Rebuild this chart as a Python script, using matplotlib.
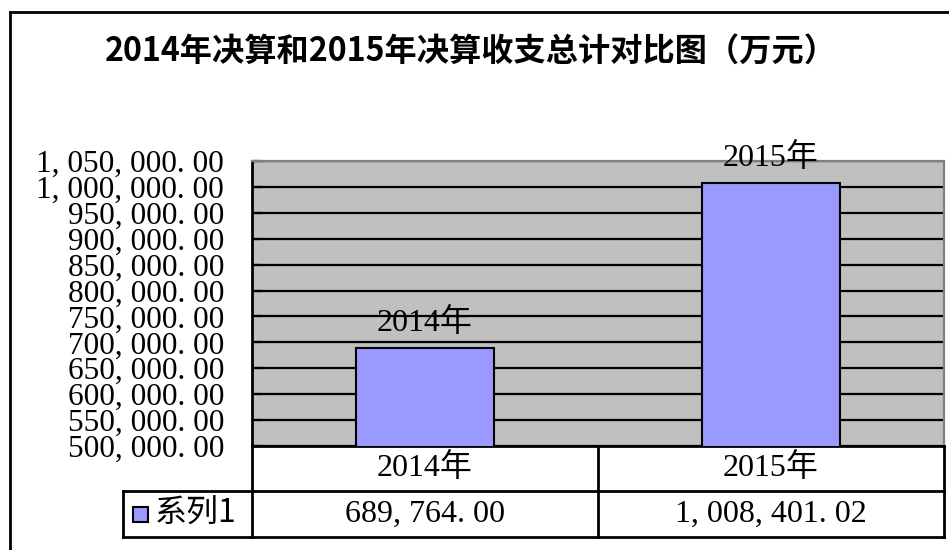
import matplotlib
matplotlib.use('Agg')
import matplotlib.pyplot as plt
from matplotlib.lines import Line2D
from matplotlib.patches import Rectangle
import matplotlib.transforms as mtransforms
import numpy as np

# ---- data ----
categories = ['2014年', '2015年']
values = [689764.00, 1008401.02]
series_name = '系列1'
title = '2014年决算和2015年决算收支总计对比图（万元）'
y_ticks = [500000, 550000, 600000, 650000, 700000, 750000, 800000,
           850000, 900000, 950000, 1000000, 1050000]

SERIF = ['Liberation Serif', 'Noto Sans CJK SC']
FS = 23
TICK_FS = 22.5
BAR_COLOR = '#9999FF'


def fmt(v):
    return f"{v:,.2f}".replace(',', ', ').replace('.', '. ')


W, H = 949, 550
fig = plt.figure(figsize=(W / 100, H / 100), dpi=100)
fig.patch.set_facecolor('white')


def fx(x):
    return x / W


def fy(y):
    return 1 - y / H


L, R, T, B = 252, 944, 161, 446
ax = fig.add_axes([fx(L), fy(B), (R - L) / W, (B - T) / H])
ax.set_facecolor('#C0C0C0')
x = np.arange(len(categories))
ax.bar(x, values, width=0.4, color=BAR_COLOR, edgecolor='black',
       linewidth=1.5, zorder=3)
ax.set_xlim(-0.5, len(categories) - 0.5)
ax.set_ylim(y_ticks[0], y_ticks[-1])
ax.set_yticks(y_ticks)
ax.set_yticklabels([fmt(v) for v in y_ticks], family=SERIF, fontsize=TICK_FS)
ax.yaxis.grid(True, color='black', linewidth=1.6, zorder=1)
ax.set_axisbelow(True)
ax.set_xticks([])
ax.tick_params(axis='y', direction='in', length=7, width=1.6, pad=20,
               colors='black')
for s in ['top', 'right']:
    ax.spines[s].set_color('#808080')
    ax.spines[s].set_linewidth(1.6)
for s in ['left', 'bottom']:
    ax.spines[s].set_color('black')
    ax.spines[s].set_linewidth(2)

# bar labels
for xi, v, c in zip(x, values, categories):
    ax.annotate(c, (xi, v), xytext=(0, 7), textcoords='offset points',
                ha='center', va='bottom', family=SERIF, fontsize=FS,
                zorder=4)

# ---- title ----
fig.text(fx(471), fy(51), title, ha='center', va='center',
         family=['Noto Sans CJK SC'], fontweight='bold', fontsize=23.2)

# ---- outer border ----
for xs, ys in [([10, 949], [12, 12]), ([10, 10], [12, 550])]:
    fig.add_artist(Line2D([fx(v) for v in xs], [fy(v) for v in ys],
                          color='black', linewidth=2))

# ---- data table ----
R1T, R1B, R2B = B, 491, 537
LEG_L = 123
MID = 598
table_lines = [
    ([L, R], [R1B, R1B]),
    ([LEG_L, R], [R2B, R2B]),
    ([LEG_L, L], [R1B, R1B]),
    ([LEG_L, LEG_L], [R1B, R2B]),
    ([L, L], [R1T, R2B]),
    ([MID, MID], [R1T, R2B]),
    ([R, R], [R1T, R2B]),
]
for xs, ys in table_lines:
    fig.add_artist(Line2D([fx(v) for v in xs], [fy(v) for v in ys],
                          color='black', linewidth=2))

blend = mtransforms.blended_transform_factory(ax.transData, fig.transFigure)
for xi, c, v in zip(x, categories, values):
    fig.text(xi, fy((R1T + R1B) / 2), c, transform=blend, ha='center',
             va='center', family=SERIF, fontsize=FS)
    fig.text(xi, fy((R1B + R2B) / 2), fmt(v), transform=blend, ha='center',
             va='center', family=SERIF, fontsize=FS)

# legend key
fig.add_artist(Rectangle((fx(133), fy(522)), 15 / W, 15 / H,
                         facecolor=BAR_COLOR, edgecolor='black',
                         linewidth=1.5, transform=fig.transFigure))
fig.text(fx(155), fy((R1B + R2B) / 2), series_name, ha='left', va='center',
         family=['Noto Sans CJK SC', 'Liberation Serif'], fontsize=FS)

fig.savefig('out.png', dpi=100)
